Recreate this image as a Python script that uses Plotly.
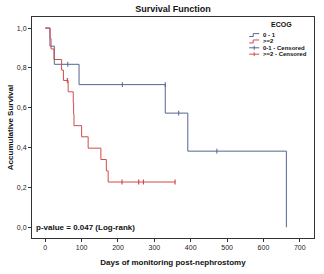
import plotly.graph_objects as go

# Kaplan-Meier step data
blue_t = [0, 13, 25, 93, 330, 392, 663]
blue_s = [1.0, 0.909, 0.818, 0.716, 0.573, 0.382, 0.0]
blue_cens_t = [62, 212, 330, 367, 472]
blue_cens_s = [0.818, 0.716, 0.716, 0.573, 0.382]

red_t = [0, 13, 16, 24, 45, 50, 63, 77, 78, 79, 100, 118, 153, 168, 173, 357]
red_s = [1.0, 0.947, 0.895, 0.842, 0.789, 0.737, 0.680, 0.624, 0.567, 0.510,
         0.454, 0.397, 0.340, 0.283, 0.227, 0.227]
red_cens_t = [61, 211, 257, 270, 357]
red_cens_s = [0.737, 0.227, 0.227, 0.227, 0.227]

x_ticks = [0, 100, 200, 300, 400, 500, 600, 700]
y_ticks = [0.0, 0.2, 0.4, 0.6, 0.8, 1.0]

legend_title = "ECOG"
legend_labels = ["0 - 1", "&gt;=2", "0-1 - Censored", "&gt;=2 - Censored"]

BLUE = "#55658f"
RED = "#d24b4b"
FONT = "Liberation Sans"

W, H = 324, 274
L, R, T, B = 32, 9, 17, 31
PW, PH = W - L - R, H - T - B


def px(xp):
    return (xp - L) / PW


def py(yp):
    return 1 - (yp - T) / PH


fig = go.Figure()
fig.add_trace(go.Scatter(x=blue_t, y=blue_s, mode="lines", line_shape="hv",
                         line=dict(color=BLUE, width=1), name="0 - 1"))
fig.add_trace(go.Scatter(x=red_t, y=red_s, mode="lines", line_shape="hv",
                         line=dict(color=RED, width=1), name=">=2"))
fig.add_trace(go.Scatter(x=blue_cens_t, y=blue_cens_s, mode="markers",
                         marker=dict(symbol="line-ns-open", size=3.5, color=BLUE,
                                     line=dict(color=BLUE, width=1)),
                         name="0-1 - Censored"))
fig.add_trace(go.Scatter(x=red_cens_t, y=red_cens_s, mode="markers",
                         marker=dict(symbol="line-ns-open", size=3.5, color=RED,
                                     line=dict(color=RED, width=1.2)),
                         name=">=2 - Censored"))

fig.add_annotation(x=-30, y=0.0, xref="x", yref="y", xanchor="left", yanchor="middle",
                   text="<b>p-value = 0.047 (Log-rank)</b>", showarrow=False,
                   font=dict(family=FONT, size=8, color="#111"))

# compact legend (SPSS style)
fig.add_annotation(x=px(282), y=py(25), xref="paper", yref="paper",
                   xanchor="center", yanchor="middle", showarrow=False,
                   text="<b>" + legend_title + "</b>",
                   font=dict(family=FONT, size=7, color="#111"))
rows = [35.5, 42, 48.5, 55]
cols = [BLUE, RED, BLUE, RED]
for i, (lab, yrow, c) in enumerate(zip(legend_labels, rows, cols)):
    fig.add_annotation(x=px(262), y=py(yrow), xref="paper", yref="paper",
                       xanchor="left", yanchor="middle", showarrow=False,
                       text="<b>" + lab + "</b>",
                       font=dict(family=FONT, size=6, color="#111"))
    if i < 2:
        path = "M {:.4f},{:.4f} L {:.4f},{:.4f} L {:.4f},{:.4f} L {:.4f},{:.4f}".format(
            px(250), py(yrow + 1.5), px(254), py(yrow + 1.5),
            px(254), py(yrow - 1.5), px(260), py(yrow - 1.5))
        fig.add_shape(type="path", path=path, xref="paper", yref="paper",
                      line=dict(color=c, width=1))
    else:
        fig.add_shape(type="line", x0=px(250), x1=px(260), y0=py(yrow), y1=py(yrow),
                      xref="paper", yref="paper", line=dict(color=c, width=1))
        fig.add_shape(type="line", x0=px(255), x1=px(255), y0=py(yrow - 2), y1=py(yrow + 2),
                      xref="paper", yref="paper", line=dict(color=c, width=1))

fig.update_layout(
    width=W, height=H,
    margin=dict(l=L, r=R, t=T, b=B),
    paper_bgcolor="white", plot_bgcolor="white",
    separators=",.",
    showlegend=False,
    font=dict(family=FONT, size=7, color="#222"),
    title=dict(text="<b>Survival Function</b>", x=0.5, xref="paper", y=0.967,
               yanchor="middle", xanchor="center",
               font=dict(family=FONT, size=9, color="#111")),
    xaxis=dict(range=[-36.4, 739], tickvals=x_ticks, ticks="outside", ticklen=3,
               tickcolor="#333", showgrid=False, zeroline=False,
               showline=True, linecolor="#333", linewidth=1, mirror=True,
               tickfont=dict(family=FONT, size=7, color="#222"),
               title=dict(text="<b>Days of monitoring post-nephrostomy</b>", standoff=8,
                          font=dict(family=FONT, size=8, color="#111"))),
    yaxis=dict(range=[-0.054, 1.0555], tickvals=y_ticks, tickformat=".1f",
               ticks="outside", ticklen=3, tickcolor="#333",
               showgrid=False, zeroline=False,
               showline=True, linecolor="#333", linewidth=1, mirror=True,
               tickfont=dict(family=FONT, size=7, color="#222"),
               title=dict(text="<b>Accumulative Survival</b>", standoff=2,
                          font=dict(family=FONT, size=8, color="#111"))),
)

fig.write_html("out.html")
